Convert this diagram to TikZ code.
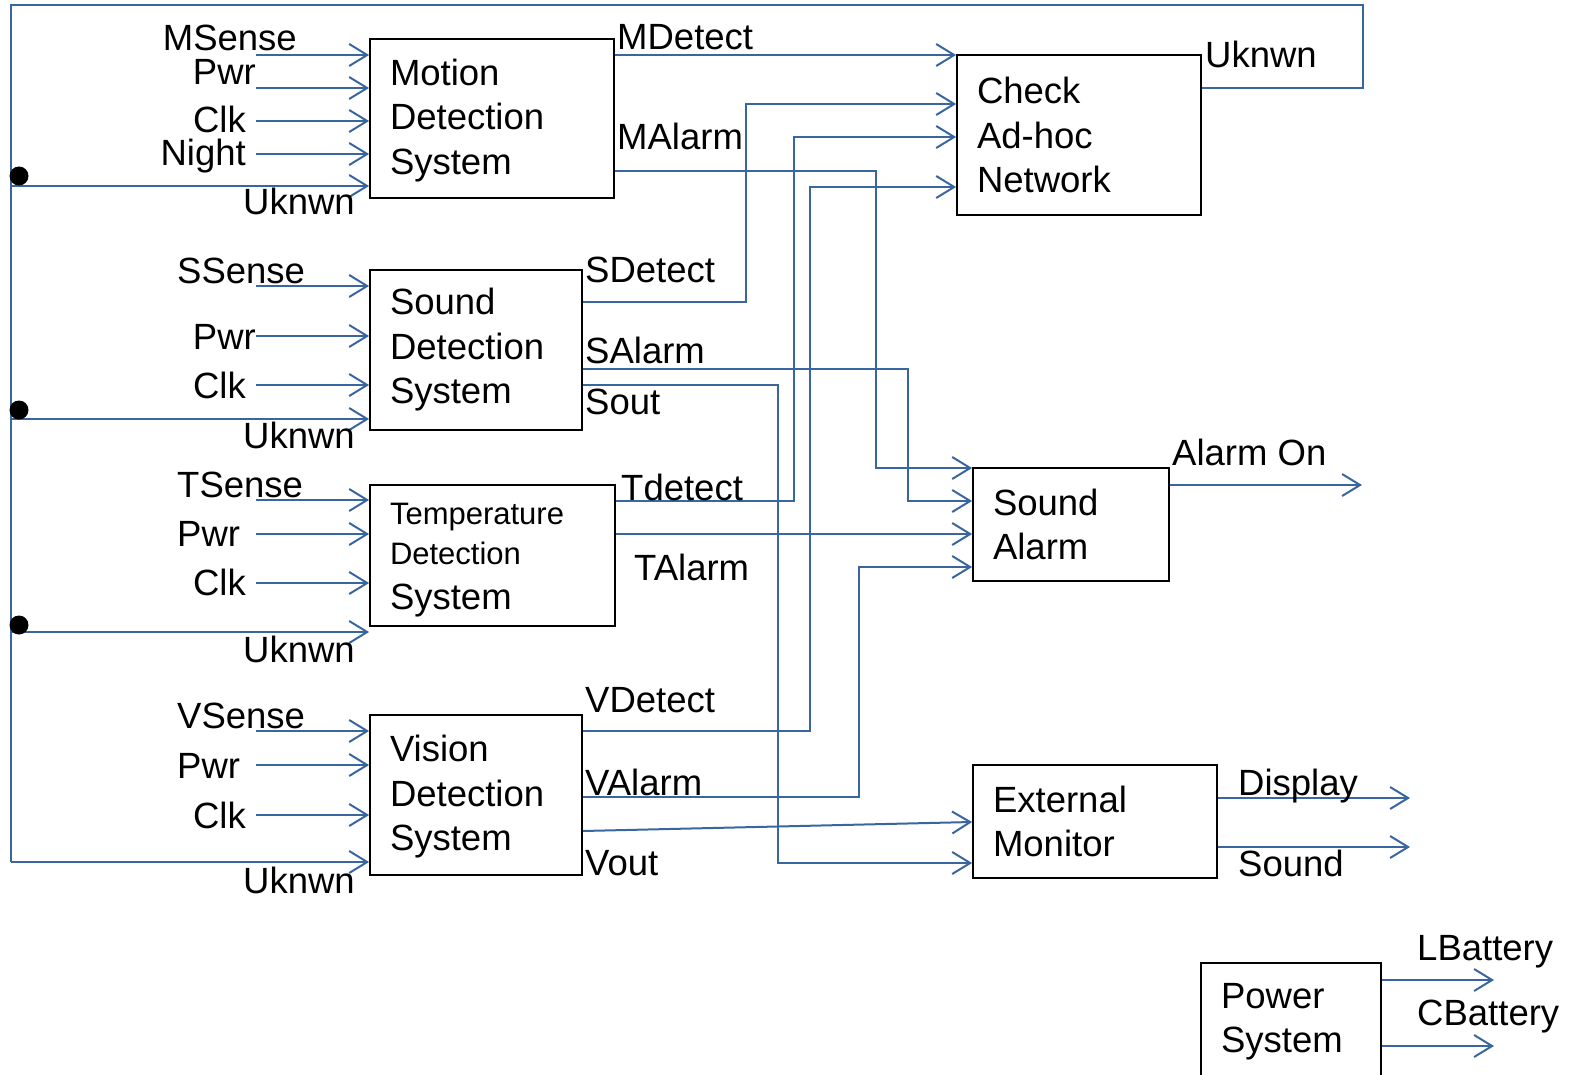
\documentclass[tikz,border=0pt]{standalone}
\usepackage{fontspec}
\setmainfont{Liberation Sans}
\usetikzlibrary{arrows.meta}
\definecolor{wire}{RGB}{58,102,160}
\begin{document}
\begin{tikzpicture}[x=1pt,y=-1pt,
  box/.style={draw=black,line width=1.8pt,inner xsep=20pt,inner ysep=0pt,align=left,
    font=\fontsize{36.5}{44.5}\selectfont},
  lbl/.style={inner sep=0pt,font=\fontsize{36.5}{44.5}\selectfont},
  wr/.style={draw=wire,line width=2pt},
  arr/.style={wr,-{Straight Barb[length=18pt,width=22pt]}},
  dotc/.style={fill=black}]
\useasboundingbox (0,0) rectangle (1570,1075);
\clip (0,0) rectangle (1570,1075);
% boxes
\node[box,minimum width=244,minimum height=159,text width=204] (motion) at (492,118.5) {\rule{0pt}{30pt}Motion\\Detection\\System};
\node[box,minimum width=244,minimum height=160,text width=204] (check) at (1079,135) {Check\\Ad-hoc\\Network};
\node[box,minimum width=212,minimum height=160,text width=172] (sdet) at (476,350) {Sound\\Detection\\System};
\node[box,minimum width=245,minimum height=141,text width=205] (temp) at (492.5,555.5) {\fontsize{31}{38}\selectfont\rule{0pt}{31pt}Temperature\\\fontsize{31}{40}\selectfont Detection\\\fontsize{36.5}{42}\selectfont System};
\node[box,minimum width=196,minimum height=113,text width=156] (salarm) at (1071,524.5) {Sound\\Alarm};
\node[box,minimum width=212,minimum height=160,text width=172] (vis) at (476,795) {\rule{0pt}{30pt}Vision\\Detection\\System};
\node[box,minimum width=244,minimum height=113,text width=204] (ext) at (1095,821.5) {External\\Monitor};
\node[box,minimum width=180,minimum height=113,text width=140] (power) at (1291,1019.5) {\rule{0pt}{30pt}Power\\System};
% free-end coordinates
\coordinate (alarmout) at (1362,485);
\coordinate (dispout) at (1410,798);
\coordinate (soundout) at (1410,847);
\coordinate (lbatout) at (1494,980);
\coordinate (cbatout) at (1494,1046);
\coordinate (busTR) at (1363,5);
\coordinate (busTL) at (11,5);
\coordinate (busBL) at (11,862);
% input arrows
\foreach \y/\n in {55/mi1,88/mi2,121/mi3,154/mi4}{\coordinate (\n) at (256,\y); \draw[arr] (\n) -- (motion.west |- \n);}
\foreach \y/\n in {286/si1,336/si2,385/si3}{\coordinate (\n) at (256,\y); \draw[arr] (\n) -- (sdet.west |- \n);}
\foreach \y/\n in {500/ti1,534/ti2,583/ti3}{\coordinate (\n) at (256,\y); \draw[arr] (\n) -- (temp.west |- \n);}
\foreach \y/\n in {731/vi1,765/vi2,815/vi3}{\coordinate (\n) at (256,\y); \draw[arr] (\n) -- (vis.west |- \n);}
% unknown bus
\draw[wr] (check.east |- 0,88) -- (busTR |- 0,88) -- (busTR) -- (busTL) -- (busBL);
\draw[arr] (busBL) -- (vis.west |- busBL);
\coordinate (b1) at (11,186); \coordinate (b2) at (11,419); \coordinate (b3) at (11,632);
\draw[arr] (b1) -- (motion.west |- b1);
\draw[arr] (b2) -- (sdet.west |- b2);
\draw[arr] (b3) -- (temp.west |- b3);
\fill[dotc] (19,176) circle (9.5);
\fill[dotc] (19,410) circle (9.5);
\fill[dotc] (19,625) circle (9.5);
% outputs
\draw[arr] (motion.east |- 0,55) -- (check.west |- 0,55);
\draw[arr] (motion.east |- 0,171) -| (876,468) -- (salarm.west |- 0,468);
\draw[arr] (sdet.east |- 0,302) -| (746,104) -- (check.west |- 0,104);
\draw[arr] (temp.east |- 0,501) -| (794,137) -- (check.west |- 0,137);
\draw[arr] (vis.east |- 0,731) -| (810,187) -- (check.west |- 0,187);
\draw[arr] (sdet.east |- 0,369) -| (908,501) -- (salarm.west |- 0,501);
\draw[arr] (sdet.east |- 0,385) -| (778,863) -- (ext.west |- 0,863);
\draw[arr] (temp.east |- 0,534) -- (salarm.west |- 0,534);
\draw[arr] (vis.east |- 0,797) -| (859,567) -- (salarm.west |- 0,567);
\draw[arr] (vis.east |- 0,831) -- (ext.west |- 0,822);
\draw[arr] (salarm.east |- alarmout) -- (alarmout);
\draw[arr] (ext.east |- dispout) -- (dispout);
\draw[arr] (ext.east |- soundout) -- (soundout);
\draw[arr] (power.east |- lbatout) -- (lbatout);
\draw[arr] (power.east |- cbatout) -- (cbatout);
% input labels
\node[lbl,anchor=base east] (l1) at (297,51) {MSense};
\node[lbl,anchor=base east] (l2) at (256,85) {Pwr};
\node[lbl,anchor=base east] (l3) at (246,133) {Clk};
\node[lbl,anchor=base east] (l4) at (246,166) {Night};
\node[lbl,anchor=base west] (l5) at (243,215) {Uknwn};
\node[lbl,anchor=base west] (l6) at (177,283) {SSense};
\node[lbl,anchor=base east] (l7) at (256,349) {Pwr};
\node[lbl,anchor=base east] (l8) at (246,398) {Clk};
\node[lbl,anchor=base west] (l9) at (243,448) {Uknwn};
\node[lbl,anchor=base west] (l10) at (177,497) {TSense};
\node[lbl,anchor=base west] (l11) at (177,546) {Pwr};
\node[lbl,anchor=base east] (l12) at (246,595) {Clk};
\node[lbl,anchor=base west] (l13) at (243,662) {Uknwn};
\node[lbl,anchor=base west] (l14) at (177,728) {VSense};
\node[lbl,anchor=base west] (l15) at (177,778) {Pwr};
\node[lbl,anchor=base east] (l16) at (246,828) {Clk};
\node[lbl,anchor=base west] (l17) at (243,893) {Uknwn};
% output labels
\node[lbl,anchor=base west] (o1) at (617,50) {MDetect};
\node[lbl,anchor=base west] (o2) at (617,150) {MAlarm};
\node[lbl,anchor=base west] (o3) at (1205,68) {Uknwn};
\node[lbl,anchor=base west] (o4) at (585,282) {SDetect};
\node[lbl,anchor=base west] (o5) at (585,363) {SAlarm};
\node[lbl,anchor=base west] (o6) at (585,414) {Sout};
\node[lbl,anchor=base west] (o7) at (621,500) {Tdetect};
\node[lbl,anchor=base west] (o8) at (634,580) {TAlarm};
\node[lbl,anchor=base west] (o9) at (585,712) {VDetect};
\node[lbl,anchor=base west] (o10) at (585,795) {VAlarm};
\node[lbl,anchor=base west] (o11) at (585,875) {Vout};
\node[lbl,anchor=base west] (o12) at (1172,465) {Alarm On};
\node[lbl,anchor=base west] (o13) at (1238,795) {Display};
\node[lbl,anchor=base west] (o14) at (1238,876) {Sound};
\node[lbl,anchor=base west] (o15) at (1417,960) {LBattery};
\node[lbl,anchor=base west] (o16) at (1417,1025) {CBattery};
\end{tikzpicture}
\end{document}
